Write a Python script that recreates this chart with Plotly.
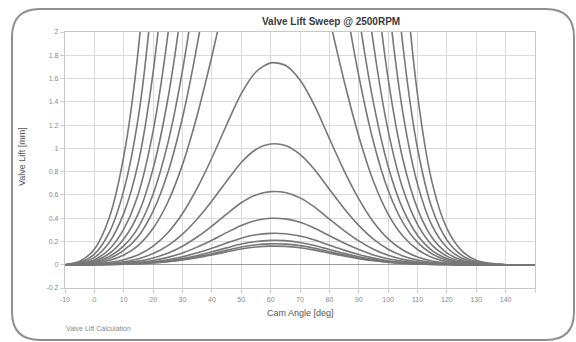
import plotly.graph_objects as go

# Cam angle grid [deg] and normalised lift profile (peak = 1)
cam_angle = [-10, -5, 0, 5, 10, 15, 20, 25, 30, 35, 40, 45, 50, 55, 60, 65, 70, 75,
             80, 85, 90, 95, 100, 105, 110, 115, 120, 125, 130, 135, 140, 145, 150]
lift_profile = [0.0, 0.0008, 0.0035, 0.0105, 0.0245, 0.049, 0.092, 0.158, 0.253,
                0.378, 0.527, 0.690, 0.845, 0.952, 0.997, 0.985, 0.912, 0.785, 0.623,
                0.465, 0.325, 0.211, 0.128, 0.0727, 0.0385, 0.0185, 0.0082, 0.0032,
                0.001, 0.0003, 0.0, 0.0, 0.0]

# Peak lift of each curve in the sweep [mm]
peak_lift = [0.16, 0.18, 0.21, 0.27, 0.40, 0.63, 1.04, 1.74,
             3.4, 5.0, 6.6, 9.0, 12.5, 18, 26, 38]

x_ticks = [-10, 0, 10, 20, 30, 40, 50, 60, 70, 80, 90, 100, 110, 120, 130, 140, 150]
x_tick_text = ["-10", "0", "10", "20", "30", "40", "50", "60", "70", "80", "90",
               "100", "110", "120", "130", "140", ""]
y_ticks = [-0.2, 0, 0.2, 0.4, 0.6, 0.8, 1, 1.2, 1.4, 1.6, 1.8, 2]
y_tick_text = ["-0.2", "0", "0.2", "0.4", "0.6", "0.8", "1", "1.2", "1.4", "1.6", "1.8", "2"]

W, H = 576, 342
L, R, T, B = 65, 535, 32, 288  # plot area in pixels


def px(x):
    return (x - L) / (R - L)


def py(y):
    return (B - y) / (B - T)


fig = go.Figure()
for pk in peak_lift:
    fig.add_trace(go.Scatter(
        x=cam_angle,
        y=[pk * v for v in lift_profile],
        mode="lines",
        line=dict(color="#777777", width=1.6, shape="spline", smoothing=0.8),
        hoverinfo="skip",
        showlegend=False,
    ))

tick_font = dict(family="Liberation Sans, Arial, sans-serif", size=7, color="#8a8a8a")
fig.update_xaxes(
    range=[-10, 150], tickvals=x_ticks, ticktext=x_tick_text, tickfont=tick_font,
    showgrid=True, gridcolor="#d9d9d9", gridwidth=1.2,
    showline=True, linecolor="#c8c8c8", linewidth=1.2, mirror=True,
    ticks="outside", ticklen=4, tickcolor="#d0d0d0", zeroline=False,
)
fig.update_yaxes(
    range=[-0.2, 2.0], tickvals=y_ticks, ticktext=y_tick_text, tickfont=tick_font,
    showgrid=True, gridcolor="#d9d9d9", gridwidth=1.2,
    showline=True, linecolor="#c8c8c8", linewidth=1.2, mirror=True,
    ticks="outside", ticklen=4, tickcolor="#d0d0d0",
    zeroline=True, zerolinecolor="#9a9a9a", zerolinewidth=1.2,
)

# Rounded frame around the whole chart
x0, x1, y0, y1, r = 12, 574, 9, 340, 28
sx = lambda v: f"{px(v):.5f}"
sy = lambda v: f"{py(v):.5f}"
path = (
    f"M {sx(x0 + r)},{sy(y0)} L {sx(x1 - r)},{sy(y0)} "
    f"Q {sx(x1)},{sy(y0)} {sx(x1)},{sy(y0 + r)} "
    f"L {sx(x1)},{sy(y1 - r)} Q {sx(x1)},{sy(y1)} {sx(x1 - r)},{sy(y1)} "
    f"L {sx(x0 + r)},{sy(y1)} Q {sx(x0)},{sy(y1)} {sx(x0)},{sy(y1 - r)} "
    f"L {sx(x0)},{sy(y0 + r)} Q {sx(x0)},{sy(y0)} {sx(x0 + r)},{sy(y0)} Z"
)
fig.add_shape(type="path", path=path, xref="paper", yref="paper",
              line=dict(color="#8f8f8f", width=2), fillcolor="rgba(0,0,0,0)")

font = "Liberation Sans, Arial, sans-serif"


def label(text, x, y, size, color, angle=0, xanchor="center"):
    fig.add_annotation(text=text, x=px(x), y=py(y), xref="paper", yref="paper",
                       showarrow=False, textangle=angle,
                       xanchor=xanchor, yanchor="middle",
                       font=dict(family=font, size=size, color=color))


label("<b>Valve Lift Sweep @ 2500RPM</b>", 331, 21, 10, "#3a3a3a")
label("Cam Angle [deg]", 300, 313, 9, "#555555")
label("Valve Lift [mm]", 22, 157, 9, "#555555", angle=-90)
label("Valve Lift Calculation", 64, 328, 7, "#8a8a8a", xanchor="left")

fig.update_layout(
    width=W, height=H,
    margin=dict(l=L, r=W - R, t=T, b=H - B, pad=0),
    paper_bgcolor="white", plot_bgcolor="white",
)

fig.write_html("out.html")
